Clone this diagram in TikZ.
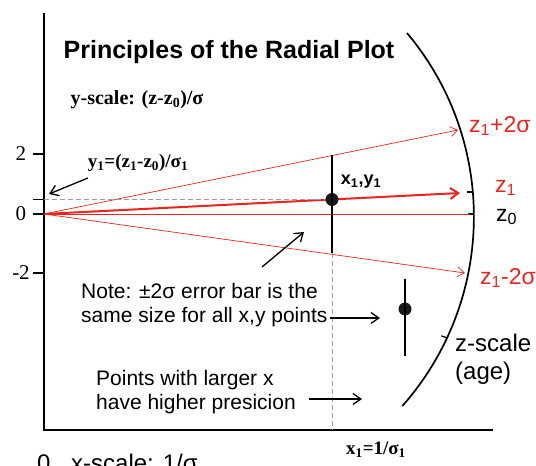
\documentclass[tikz,border=0pt]{standalone}
\usepackage{fontspec}
\setmainfont{Liberation Serif}
\setsansfont{Liberation Sans}
\usetikzlibrary{arrows.meta,positioning}
\definecolor{PlotRed}{HTML}{E8261F}
\definecolor{DashGrey}{HTML}{9A9A9A}

\begin{document}
\begin{tikzpicture}[x=1pt,y=1pt,
  axisline/.style={line width=1.8pt,black},
  thinray/.style={PlotRed,line width=0.7pt,-{Straight Barb[length=7pt,width=10pt]}},
  mainray/.style={PlotRed,line width=2pt,-{Straight Barb[length=8pt,width=11pt]}},
  guide/.style={DashGrey,dash pattern=on 5pt off 3pt,line width=1pt},
  errbar/.style={line width=1.8pt,black},
  pointer/.style={line width=1.3pt,-{Straight Barb[length=8pt,width=11pt]}},
  datadot/.style={circle,fill=black!90,inner sep=0pt,minimum size=13pt},
  ticklab/.style={font=\fontsize{21}{23}\selectfont,inner sep=0pt},
  sanslab/.style={font=\sffamily\fontsize{21}{24}\selectfont,inner sep=0pt,align=left,anchor=west},
  seriflab/.style={font=\bfseries\fontsize{19}{21}\selectfont,inner sep=0pt},
  zlab/.style={font=\sffamily\fontsize{23}{28}\selectfont,inner sep=0pt,anchor=west,align=left}
]
  \useasboundingbox (0,0) rectangle (536,466);

  \coordinate (O) at (44,252);
  \coordinate (ytop) at (44,453);
  \coordinate (corner) at (44,36);
  \coordinate (xend) at (493,36);
  \draw[axisline] (ytop) -- (corner) -- (xend);
  \foreach \yy/\lab in {312/2,252/0,193/-2}{
    \draw[line width=1.5pt] (33,\yy) -- (44,\yy);
    \node[ticklab] (t\lab) at (21,\yy) {\lab};
  }
  \coordinate (y1) at (44,266.5);
  \draw[line width=1.5pt] (33,266.5) -- (y1);

  \coordinate (arcC) at (188,249);
  \coordinate (arctop) at (407,433);
  \draw[line width=1.7pt] (arctop) arc[start angle=40,end angle=-41.4,radius=286];
  \draw[line width=1.3pt] (467,274) -- (473,274);
  \draw[line width=1.3pt] (468,252) -- (474,252);
  \draw[line width=1.2pt] (arcC) ++(-25:286) -- ++(-6,2);

  \coordinate (hi) at (458,336);
  \coordinate (z1tip) at (460,273);
  \coordinate (lo) at (465,193);
  \coordinate (z0end) at (470,252);
  \draw[thinray] (O) -- (hi);
  \draw[thinray] (O) -- (lo);
  \draw[PlotRed,line width=0.7pt] (O) -- (z0end);
  \draw[mainray] (O) -- (z1tip);

  \node[datadot] (P1) at (332,266.5) {};
  \coordinate (bar1hi) at (332,311);
  \coordinate (bar1lo) at (332,213);
  \draw[guide] (y1) -- (P1);
  \draw[guide] (bar1lo) -- (bar1lo |- corner);
  \draw[errbar] (bar1hi) -- (bar1lo);

  \node[datadot] (P2) at (405,157) {};
  \coordinate (bar2hi) at (405,187);
  \coordinate (bar2lo) at (405,110);
  \draw[errbar] (bar2hi) -- (bar2lo);

  \node[font=\sffamily\bfseries\fontsize{25}{28}\selectfont,inner sep=0pt] (title) at (229,414) {Principles of the Radial Plot};
  \node[seriflab,font=\bfseries\fontsize{20}{22}\selectfont] (yscale) at (137,366) {y-scale: (z-z\textsubscript{0})/σ};
  \node[seriflab] (y1lab) at (138,303) {y\textsubscript{1}=(z\textsubscript{1}-z\textsubscript{0})/σ\textsubscript{1}};
  \node[font=\sffamily\bfseries\fontsize{18}{20}\selectfont,inner sep=0pt] (xy1) at (361,284) {x\textsubscript{1},y\textsubscript{1}};
  \node[seriflab] (x1lab) at (376,16) {x\textsubscript{1}=1/σ\textsubscript{1}};

  \node[zlab,text=PlotRed] (zhi) at (469,340) {z\textsubscript{1}+2σ};
  \node[zlab,text=PlotRed] (zone) at (495,278) {z\textsubscript{1}};
  \node[zlab] (zzero) at (496,249) {z\textsubscript{0}};
  \node[zlab,text=PlotRed] (zlo) at (480,188) {z\textsubscript{1}-2σ};
  \node[zlab,font=\sffamily\fontsize{24}{28}\selectfont] (zscale) at (455,107) {z-scale\\(age)};

  \node[sanslab] (note) at (81,161) {Note: ±2σ error bar is the\\same size for all x,y points};
  \node[sanslab] (prec) at (96,74) {Points with larger x\\have higher presicion};
  \node[zlab,font=\sffamily\fontsize{24}{28}\selectfont] (zeroX) at (37,3) {0};
  \node[zlab,font=\sffamily\fontsize{24}{28}\selectfont] (xscale) at (71,3) {x-scale: 1/σ};

  \coordinate (a1s) at (88,288);
  \coordinate (a1e) at (49,272);
  \draw[pointer] (a1s) -- (a1e);
  \coordinate (a2s) at (262,199);
  \coordinate (a2e) at (304,234);
  \draw[pointer] (a2s) -- (a2e);
  \coordinate (a3e) at (380,148);
  \draw[pointer] (note.east |- a3e) ++(2,0) coordinate (a3s) -- (a3e);
  \coordinate (a4s) at (309,67);
  \coordinate (a4e) at (362,67);
  \draw[pointer] (a4s) -- (a4e);
\end{tikzpicture}
\end{document}
